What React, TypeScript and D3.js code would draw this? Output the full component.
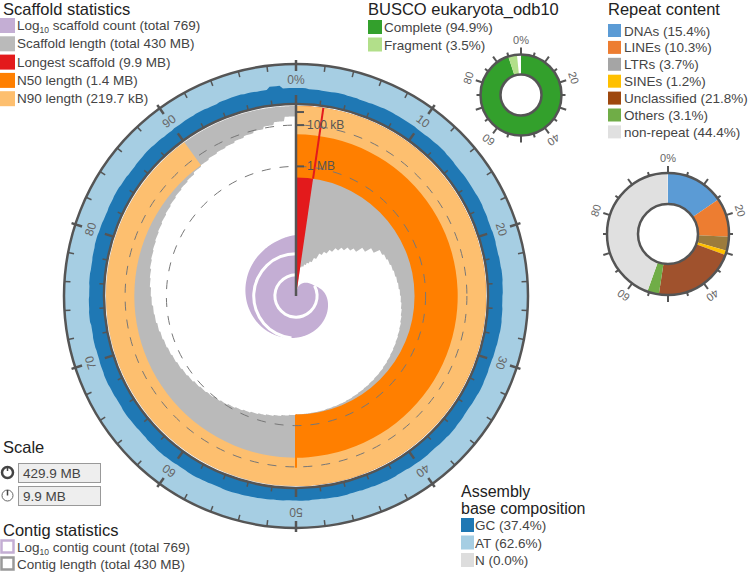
import React from 'react';
import * as d3 from 'd3';

// ---------- data ----------
const longestMB = 9.9;
const n50MB = 1.4;
const n90MB = 0.2197;
const longestPct = 2.3;

// scaffold length (MB) starting at each percent position of the assembly
const lengthPct = [0, 2.3, 3, 4, 5, 6, 7, 8, 9, 10, 11, 12, 13, 14, 15, 16, 17, 18, 19, 20, 21, 22, 23, 24, 25, 26, 27, 28, 29,
  30, 31, 32, 33, 34, 35, 36, 37, 38, 39, 40, 41, 42, 43, 44, 45, 46, 47, 48, 49, 50, 51, 52, 53, 54, 55, 56, 57, 58, 59,
  60, 61, 62, 63, 64, 65, 66, 67, 68, 69, 70, 71, 72, 73, 74, 75, 76, 77, 78, 79, 80, 81, 82, 83, 84, 85, 86, 87, 88, 89,
  90, 91, 92, 93, 94, 95, 96, 97, 98, 99];
const lengthMB = [9.9, 7.1, 7.0, 6.8, 6.6, 6.4, 6.0, 5.5, 5.2, 4.85, 4.5, 4.2, 3.9, 3.65, 3.2, 2.8, 2.45, 2.35, 2.28, 2.22, 2.17, 2.12, 2.08, 2.03, 1.99, 1.95, 1.91, 1.87, 1.83,
  1.8, 1.77, 1.74, 1.71, 1.68, 1.65, 1.62, 1.6, 1.58, 1.56, 1.54, 1.52, 1.5, 1.48, 1.47, 1.46, 1.44, 1.43, 1.42, 1.41, 1.38, 1.35, 1.31, 1.27, 1.23, 1.19, 1.15, 1.11, 1.07, 1.03,
  1.0, 0.96, 0.93, 0.9, 0.86, 0.83, 0.8, 0.77, 0.74, 0.71, 0.68, 0.65, 0.62, 0.6, 0.57, 0.55, 0.52, 0.5, 0.47, 0.45, 0.43, 0.41, 0.39, 0.37, 0.35, 0.33, 0.31, 0.29, 0.27, 0.24,
  0.22, 0.2, 0.185, 0.17, 0.15, 0.13, 0.11, 0.085, 0.06, 0.03];

// cumulative scaffold count at percent positions
const countPct = [0, 2.3, 4, 6, 8, 10, 12, 14, 17, 20, 25, 30, 35, 40, 45, 50, 55, 60, 65, 70, 75, 80, 85, 90, 95, 100];
const countN = [1, 2, 3, 4, 5, 6, 7, 8, 10, 15, 27, 39, 52, 66, 80, 94, 112, 135, 162, 195, 238, 290, 358, 443, 568, 769];

// GC proportion per 1% bin
const gcBins = [0.40, 0.38, 0.37, 0.38, 0.37, 0.36, 0.37, 0.38, 0.37, 0.37, 0.36, 0.37, 0.38, 0.37, 0.36, 0.37, 0.37, 0.38, 0.37, 0.36,
  0.37, 0.36, 0.37, 0.38, 0.37, 0.36, 0.37, 0.38, 0.37, 0.36, 0.35, 0.36, 0.37, 0.36, 0.35, 0.36, 0.37, 0.36, 0.35, 0.36,
  0.35, 0.34, 0.35, 0.34, 0.33, 0.32, 0.33, 0.32, 0.31, 0.32, 0.31, 0.32, 0.33, 0.34, 0.35, 0.36, 0.35, 0.36, 0.37, 0.36,
  0.37, 0.38, 0.37, 0.36, 0.37, 0.38, 0.37, 0.38, 0.39, 0.38, 0.37, 0.38, 0.37, 0.39, 0.38, 0.37, 0.38, 0.37, 0.38, 0.39,
  0.38, 0.37, 0.38, 0.39, 0.38, 0.37, 0.38, 0.39, 0.38, 0.37, 0.38, 0.39, 0.40, 0.39, 0.41, 0.42, 0.41, 0.40, 0.47, 0.40];

const buscoLabels = ['Complete (94.9%)', 'Fragment (3.5%)'];
const buscoValues = [94.9, 3.5];
const buscoColors = ['#33a02c', '#b2df8a'];

const repeatLabels = ['DNAs (15.4%)', 'LINEs (10.3%)', 'LTRs (3.7%)', 'SINEs (1.2%)', 'Unclassified (21.8%)', 'Others (3.1%)', 'non-repeat (44.4%)'];
const repeatValues = [15.4, 10.3, 3.7, 1.2, 21.8, 3.1, 44.4];
const repeatColors = ['#5b9bd5', '#ed7d31', '#a5a5a5', '#ffc000', '#9e480e', '#70ad47', '#e0e0e0'];
const repeatSliceColors = ['#5b9bd5', '#ed7d31', '#9c7b3c', '#ffc000', '#a0522d', '#70ad47', '#e0e0e0'];

const scaffoldLegend = ['Scaffold length (total 430 MB)', 'Longest scaffold (9.9 MB)', 'N50 length (1.4 MB)', 'N90 length (219.7 kB)'];
const compLabels = ['GC (37.4%)', 'AT (62.6%)', 'N (0.0%)'];
const ringLabels = ['0%', '10', '20', '30', '40', '50', '60', '70', '80', '90'];

// ---------- style ----------
const C = {
  count: '#c4aed4', length: '#bababa', longest: '#e31a1c', n50: '#ff7f00', n90: '#fdbf6f',
  gc: '#1f78b4', at: '#a6cee3', n: '#dddddd', axis: '#555555', text: '#222222'
};
const FONT = 'Liberation Sans, Arial, sans-serif';
const cx = 296, cy = 296, R = 190, rIn = 192, rOut = 232;

const ang = d3.scaleLinear().domain([0, 100]).range([0, 2 * Math.PI]);
const rLen = d3.scaleSqrt().domain([0, longestMB]).range([R, 0]);
const rCount = d3.scaleLinear().domain([0, Math.log10(769)]).range([0, 61]);

function stepLookup(xs: number[], ys: number[], x: number) {
  let v = ys[0];
  for (let i = 0; i < xs.length; i++) if (x >= xs[i]) v = ys[i];
  return v;
}
function linLookup(xs: number[], ys: number[], x: number) {
  for (let i = 1; i < xs.length; i++) if (x <= xs[i]) {
    const t = (x - xs[i - 1]) / (xs[i] - xs[i - 1]);
    return ys[i - 1] + t * (ys[i] - ys[i - 1]);
  }
  return ys[ys.length - 1];
}
const arc = (ri: number, ro: number, p0: number, p1: number) =>
  d3.arc()({ innerRadius: ri, outerRadius: ro, startAngle: ang(p0), endAngle: ang(p1) }) as string;

function Donut({ x, y, ri, ro, values, colors }: any) {
  let acc = 0;
  const slices = values.map((v: number, i: number) => {
    const p = arc(ri, ro, acc, acc + v);
    acc += v;
    return <path key={i} d={p} fill={colors[i]} />;
  });
  const ticks = d3.range(0, 100, 5);
  return (
    <g transform={`translate(${x},${y})`}>
      {slices}
      <circle r={ro} fill="none" stroke={C.axis} strokeWidth={2.5} />
      <circle r={ri} fill="none" stroke={C.axis} strokeWidth={2.5} />
      {ticks.map(t => (
        <line key={t} transform={`rotate(${t * 3.6})`} x1={0} x2={0} y1={-ro} y2={-ro - (t % 10 === 0 ? 7 : 4)} stroke={C.axis} strokeWidth={2} />
      ))}
      {[0, 20, 40, 60, 80].map(t => (
        <text key={t} transform={`rotate(${t * 3.6}) translate(0,${-ro - 15})`} textAnchor="middle" dominantBaseline="central"
          fontSize={11} fill="#666" fontFamily={FONT}>{t === 0 ? '0%' : t}</text>
      ))}
    </g>
  );
}

export default function App() {
  const samples = d3.range(0, 100.001, 0.1);
  const lenArea = d3.areaRadial<number>()
    .angle(p => ang(p))
    .innerRadius(p => rLen(stepLookup(lengthPct, lengthMB, Math.min(p, 99.99))))
    .outerRadius(R)(samples) as string;
  const countArea = d3.areaRadial<number>()
    .angle(p => ang(p))
    .innerRadius(0)
    .outerRadius(p => rCount(Math.log10(linLookup(countPct, countN, p))))(samples) as string;
  const gcSamples = d3.range(0, 100.001, 0.25);
  const gcArea = d3.areaRadial<number>()
    .angle(p => ang(p))
    .innerRadius(rIn)
    .outerRadius(p => rIn + (rOut - rIn) * gcBins[Math.min(99, Math.floor(p))])(gcSamples) as string;

  const p10 = (() => { for (const p of samples) if (linLookup(countPct, countN, p) >= 10) return p; return 100; })();
  const p100 = (() => { for (const p of samples) if (linLookup(countPct, countN, p) >= 100) return p; return 100; })();

  const majorTicks = d3.range(0, 100, 10);
  const minorTicks = d3.range(0, 100, 2).filter(t => t % 10 !== 0);

  const legendRow = (i: number) => 18 + i * 18.3;

  return (
    <svg width={751} height={574} style={{ position: 'absolute', left: 0, top: 0 }} fontFamily={FONT}>
      <rect width={751} height={574} fill="#fff" />
      <g transform={`translate(${cx},${cy})`}>
        {/* composition ring */}
        <path d={arc(rIn, rOut, 0, 100)} fill={C.at} />
        <path d={gcArea} fill={C.gc} />
        {/* snail */}
        <path d={lenArea} fill={C.length} />
        <path d={arc(0, R, 0, longestPct)} fill={C.longest} />
        <path d={arc(rLen(n50MB), R, 0, 50)} fill={C.n50} />
        <path d={arc(rLen(n90MB), R, 0, 90)} fill={C.n90} />
        <line transform={`rotate(${longestPct * 3.6})`} y1={-rLen(n50MB)} y2={-R} stroke={C.longest} strokeWidth={2} />
        <line transform={`rotate(180)`} y1={-rLen(n50MB)} y2={-rLen(n90MB) - 10} stroke={C.n50} strokeWidth={2} />
        {/* count spiral */}
        <path d={countArea} fill={C.count} />
        <path d={d3.arc()({ innerRadius: rCount(1) - 1.5, outerRadius: rCount(1) + 1.5, startAngle: ang(p10), endAngle: ang(100) }) as string} fill="#fff" />
        <path d={d3.arc()({ innerRadius: rCount(2) - 1.5, outerRadius: rCount(2) + 1.5, startAngle: ang(p100), endAngle: ang(100) }) as string} fill="#fff" />
        {/* dashed guides */}
        {[0.1, 1].map(v => (
          <circle key={v} r={rLen(v)} fill="none" stroke="#777" strokeWidth={1} strokeDasharray="9,9" />
        ))}
        {/* axis */}
        <line y1={0} y2={-rIn} stroke={C.axis} strokeWidth={2.5} />
        {[0.01, 0.1, 1].map(v => (
          <line key={v} x1={0} x2={8} y1={-rLen(v)} y2={-rLen(v)} stroke={C.axis} strokeWidth={2} />
        ))}
        <text x={11} y={-rLen(0.1)} dominantBaseline="central" fontSize={12} fill={C.axis}>100 kB</text>
        <text x={11} y={-rLen(1)} dominantBaseline="central" fontSize={12} fill={C.axis}>1 MB</text>
        {/* ring circles and ticks */}
        <circle r={rOut} fill="none" stroke={C.axis} strokeWidth={2.5} />
        <circle r={rIn} fill="none" stroke={C.axis} strokeWidth={2.5} />
        {minorTicks.map(t => (
          <g key={t} transform={`rotate(${t * 3.6})`}>
            <line y1={-rOut} y2={-rOut + 6} stroke={C.axis} strokeWidth={1.5} />
            <line y1={-rIn} y2={-rIn - 5} stroke={C.axis} strokeWidth={1.5} />
          </g>
        ))}
        {majorTicks.map((t, i) => (
          <g key={t} transform={`rotate(${t * 3.6})`}>
            <line y1={-rOut - 4} y2={-rOut + 7} stroke={C.axis} strokeWidth={2.5} />
            <line y1={-rIn} y2={-rIn - 9} stroke={C.axis} strokeWidth={2.5} />
            <text transform={`translate(0,${-216})`} textAnchor="middle" dominantBaseline="central" fontSize={12} fill="#666">
              {ringLabels[i]}
            </text>
          </g>
        ))}
      </g>

      {/* Scaffold statistics legend */}
      <text x={3} y={15} fontSize={16.5} fill={C.text}>Scaffold statistics</text>
      <rect x={0} y={legendRow(0)} width={15} height={15} fill={C.count} />
      <text x={17} y={legendRow(0) + 12} fontSize={13.5} fill="#444">Log<tspan fontSize={8.5} dy={3}>10</tspan><tspan dy={-3}> scaffold count (total 769)</tspan></text>
      {scaffoldLegend.map((l, i) => (
        <g key={l}>
          <rect x={0} y={legendRow(i + 1)} width={15} height={15} fill={[C.length, C.longest, C.n50, C.n90][i]} />
          <text x={17} y={legendRow(i + 1) + 12} fontSize={13.5} fill="#444">{l}</text>
        </g>
      ))}

      {/* BUSCO legend */}
      <text x={368} y={15} fontSize={16.5} fill={C.text}>BUSCO eukaryota_odb10</text>
      {buscoLabels.map((l, i) => (
        <g key={l}>
          <rect x={368} y={20 + i * 17.5} width={14} height={14} fill={buscoColors[i]} />
          <text x={384} y={32 + i * 17.5} fontSize={13.5} fill="#444">{l}</text>
        </g>
      ))}
      <Donut x={521} y={95} ri={20.5} ro={40.5} values={buscoValues} colors={buscoColors} />

      {/* Repeat legend */}
      <text x={608} y={15} fontSize={16.5} fill={C.text}>Repeat content</text>
      {repeatLabels.map((l, i) => (
        <g key={l}>
          <rect x={608} y={24 + i * 16.9} width={13} height={13} fill={repeatColors[i]} />
          <text x={624} y={35.5 + i * 16.9} fontSize={13.5} fill="#444">{l}</text>
        </g>
      ))}
      <Donut x={668} y={234} ri={30} ro={61} values={repeatValues} colors={repeatSliceColors} />

      {/* Scale */}
      <text x={3} y={453} fontSize={16.5} fill={C.text}>Scale</text>
      <circle cx={7.5} cy={472.5} r={5.5} fill="none" stroke="#444" strokeWidth={2.5} />
      <line x1={7.5} x2={7.5} y1={466} y2={471} stroke="#444" strokeWidth={1.5} />
      <rect x={18.5} y={463.5} width={82} height={19} fill="#eeeeee" stroke="#999" />
      <text x={23} y={478} fontSize={13.5} fill="#444">429.9 MB</text>
      <circle cx={7.5} cy={495.5} r={5.5} fill="none" stroke="#666" strokeWidth={1} />
      <line x1={7.5} x2={7.5} y1={490} y2={495.5} stroke="#444" strokeWidth={1.5} />
      <rect x={18.5} y={486.5} width={82} height={19} fill="#eeeeee" stroke="#999" />
      <text x={23} y={501} fontSize={13.5} fill="#444">9.9 MB</text>

      {/* Contig statistics */}
      <text x={3} y={536} fontSize={16.5} fill={C.text}>Contig statistics</text>
      <rect x={1.5} y={540.5} width={12} height={12} fill="none" stroke={C.count} strokeWidth={2.5} />
      <text x={17} y={552} fontSize={13.5} fill="#444">Log<tspan fontSize={8.5} dy={3}>10</tspan><tspan dy={-3}> contig count (total 769)</tspan></text>
      <rect x={1.5} y={557.5} width={12} height={12} fill="none" stroke="#999" strokeWidth={2.5} />
      <text x={17} y={569} fontSize={13.5} fill="#444">Contig length (total 430 MB)</text>

      {/* base composition legend */}
      <text x={461} y={497} fontSize={16} fill={C.text}>Assembly</text>
      <text x={461} y={514} fontSize={16} fill={C.text}>base composition</text>
      {compLabels.map((l, i) => (
        <g key={l}>
          <rect x={461} y={518 + i * 17.5} width={13} height={14} fill={[C.gc, C.at, C.n][i]} />
          <text x={475} y={530 + i * 17.5} fontSize={13.5} fill="#444">{l}</text>
        </g>
      ))}
    </svg>
  );
}
